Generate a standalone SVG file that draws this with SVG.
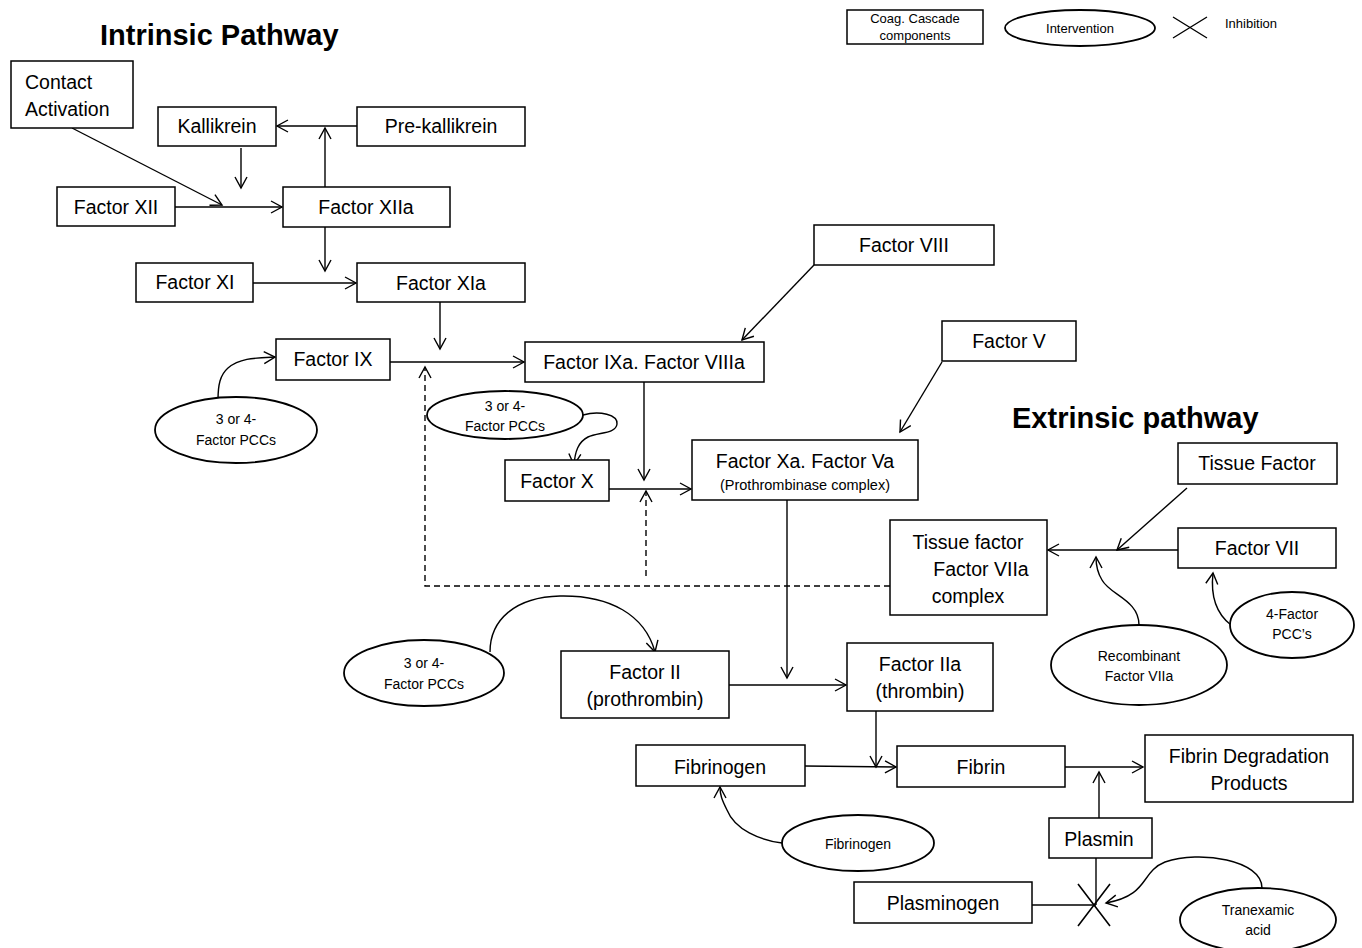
<svg xmlns="http://www.w3.org/2000/svg" width="1362" height="948" viewBox="0 0 1362 948">
<defs>
<marker id="ah" viewBox="0 0 14 14" refX="12" refY="7" markerWidth="14" markerHeight="14" markerUnits="userSpaceOnUse" orient="auto">
<path d="M1,1 L12,7 L1,13" fill="none" stroke="#000" stroke-width="1.4"/>
</marker>
</defs>
<style>
.box{fill:#fff;stroke:#000;stroke-width:1.5}
.ell{fill:#fff;stroke:#000;stroke-width:1.8}
.t{font-family:"Liberation Sans",Arial,sans-serif;font-size:19.5px;fill:#000;text-anchor:middle}
.s{font-family:"Liberation Sans",Arial,sans-serif;font-size:14px;fill:#000;text-anchor:middle}
.h{font-family:"Liberation Sans",Arial,sans-serif;font-size:29px;font-weight:bold;fill:#000}
.c{fill:none;stroke:#000;stroke-width:1.4}
.a{marker-end:url(#ah)}
.d{stroke-dasharray:6,4}
</style>
<rect width="1362" height="948" fill="#fff"/>

<text class="h" x="100" y="45">Intrinsic Pathway</text>
<text class="h" x="1012" y="428">Extrinsic pathway</text>

<g id="legend">
<rect class="box" x="847" y="10" width="136" height="34"/>
<text class="s" x="915" y="23" style="font-size:13px">Coag. Cascade</text>
<text class="s" x="915" y="40" style="font-size:13px">components</text>
<ellipse class="ell" cx="1080" cy="28" rx="75" ry="18"/>
<text class="s" x="1080" y="33" style="font-size:13px">Intervention</text>
<path class="c" d="M1173,17 L1207,38 M1173,38 L1207,17"/>
<text class="s" x="1225" y="28" style="font-size:13px;text-anchor:start">Inhibition</text>
</g>

<g id="connectors">
<line class="c a" x1="72" y1="128" x2="222" y2="205"/>
<line class="c a" x1="175" y1="207" x2="282" y2="207"/>
<line class="c a" x1="241" y1="148" x2="241" y2="188"/>
<line class="c a" x1="325" y1="187" x2="325" y2="128"/>
<line class="c a" x1="357" y1="126" x2="277" y2="126"/>
<line class="c a" x1="325" y1="227" x2="325" y2="271"/>
<line class="c a" x1="253" y1="283" x2="356" y2="283"/>
<line class="c a" x1="440" y1="302" x2="440" y2="349"/>
<line class="c a" x1="390" y1="362" x2="524" y2="362"/>
<path class="c d a" d="M890,586 L425,586 L425,367"/>
<line class="c d a" x1="646" y1="576" x2="646" y2="491"/>
<line class="c a" x1="814" y1="265" x2="742" y2="340"/>
<line class="c a" x1="942" y1="362" x2="900" y2="432"/>
<line class="c a" x1="644" y1="382" x2="644" y2="480"/>
<line class="c a" x1="609" y1="489" x2="691" y2="489"/>
<line class="c a" x1="787" y1="500" x2="787" y2="678"/>
<line class="c a" x1="729" y1="685" x2="846" y2="685"/>
<line class="c a" x1="876" y1="711" x2="876" y2="767"/>
<line class="c a" x1="805" y1="766" x2="896" y2="767"/>
<line class="c a" x1="1065" y1="767" x2="1143" y2="767"/>
<line class="c a" x1="1099" y1="818" x2="1099" y2="772"/>
<line class="c" x1="1096" y1="858" x2="1096" y2="905"/>
<line class="c" x1="1032" y1="905" x2="1096" y2="905"/>
<path class="c" d="M1078,884 L1110,926 M1078,926 L1110,884" style="stroke-width:1.6"/>
<path class="c a" d="M1262,888 C1262,860 1200,850 1165,862 C1140,872 1150,895 1106,903"/>
<line class="c a" x1="1187" y1="488" x2="1117" y2="550"/>
<line class="c a" x1="1178" y1="550" x2="1048" y2="550"/>
<path class="c a" d="M1139,625 C1139,600 1110,595 1102,580 C1097,572 1096,565 1096,557"/>
<path class="c a" d="M1231,625 C1218,615 1210,600 1213,573"/>
<path class="c a" d="M782,843 C760,840 735,830 727,810 C722,800 720,795 720,787"/>
<path class="c a" d="M218,400 C218,385 220,375 228,368 C240,358 255,358 275,357"/>
<path class="c a" d="M583,415 C600,410 618,415 617,424 C616,434 598,432 588,437 C578,442 575,452 574,465"/>
<path class="c a" d="M490,652 C490,620 515,597 560,596 C610,595 645,615 655,652"/>
</g>

<g id="contact-activation"><rect class="box" x="11" y="61" width="122" height="67"/>
<text class="t" x="25" y="89" style="text-anchor:start">Contact</text>
<text class="t" x="25" y="116" style="text-anchor:start">Activation</text></g>
<g id="kallikrein"><rect class="box" x="158" y="107" width="118" height="39"/><text class="t" x="217" y="133">Kallikrein</text></g>
<g id="pre-kallikrein"><rect class="box" x="357" y="107" width="168" height="39"/><text class="t" x="441" y="133">Pre-kallikrein</text></g>
<g id="factor-xii"><rect class="box" x="57" y="187" width="118" height="39"/><text class="t" x="116" y="214">Factor XII</text></g>
<g id="factor-xiia"><rect class="box" x="283" y="187" width="167" height="40"/><text class="t" x="366" y="214">Factor XIIa</text></g>
<g id="factor-xi"><rect class="box" x="136" y="263" width="117" height="39"/><text class="t" x="195" y="289">Factor XI</text></g>
<g id="factor-xia"><rect class="box" x="357" y="263" width="168" height="39"/><text class="t" x="441" y="290">Factor XIa</text></g>
<g id="factor-viii"><rect class="box" x="814" y="225" width="180" height="40"/><text class="t" x="904" y="252">Factor VIII</text></g>
<g id="factor-ix"><rect class="box" x="276" y="339" width="114" height="41"/><text class="t" x="333" y="366">Factor IX</text></g>
<g id="factor-ixa-viiia"><rect class="box" x="525" y="342" width="239" height="40"/><text class="t" x="644" y="369">Factor IXa. Factor VIIIa</text></g>
<g id="factor-v"><rect class="box" x="942" y="321" width="134" height="40"/><text class="t" x="1009" y="348">Factor V</text></g>
<g id="factor-x"><rect class="box" x="505" y="460" width="104" height="41"/><text class="t" x="557" y="488">Factor X</text></g>
<g id="factor-xa-va"><rect class="box" x="692" y="440" width="226" height="60"/>
<text class="t" x="805" y="468">Factor Xa. Factor Va</text>
<text class="s" x="805" y="490" style="font-size:14.5px">(Prothrombinase complex)</text></g>
<g id="tissue-factor"><rect class="box" x="1178" y="443" width="159" height="41"/><text class="t" x="1257" y="470">Tissue Factor</text></g>
<g id="factor-vii"><rect class="box" x="1178" y="528" width="158" height="40"/><text class="t" x="1257" y="555">Factor VII</text></g>
<g id="tf-viia-complex"><rect class="box" x="890" y="520" width="157" height="95"/>
<text class="t" x="968" y="549">Tissue factor</text>
<text class="t" x="981" y="576">Factor VIIa</text>
<text class="t" x="968" y="603">complex</text></g>
<g id="factor-ii"><rect class="box" x="561" y="651" width="168" height="67"/>
<text class="t" x="645" y="679">Factor II</text>
<text class="t" x="645" y="706">(prothrombin)</text></g>
<g id="factor-iia"><rect class="box" x="847" y="643" width="146" height="68"/>
<text class="t" x="920" y="671">Factor IIa</text>
<text class="t" x="920" y="698">(thrombin)</text></g>
<g id="fibrinogen"><rect class="box" x="636" y="745" width="169" height="41"/><text class="t" x="720" y="774">Fibrinogen</text></g>
<g id="fibrin"><rect class="box" x="897" y="746" width="168" height="41"/><text class="t" x="981" y="774">Fibrin</text></g>
<g id="fdp"><rect class="box" x="1145" y="735" width="208" height="67"/>
<text class="t" x="1249" y="763">Fibrin Degradation</text>
<text class="t" x="1249" y="790">Products</text></g>
<g id="plasmin"><rect class="box" x="1049" y="818" width="103" height="40"/><text class="t" x="1099" y="846">Plasmin</text></g>
<g id="plasminogen"><rect class="box" x="854" y="882" width="178" height="41"/><text class="t" x="943" y="910">Plasminogen</text></g>

<g id="pcc-left"><ellipse class="ell" cx="236" cy="430" rx="81" ry="33"/>
<text class="s" x="236" y="424">3 or 4-</text><text class="s" x="236" y="445">Factor PCCs</text></g>
<g id="pcc-middle"><ellipse class="ell" cx="505" cy="415" rx="78" ry="24"/>
<text class="s" x="505" y="411">3 or 4-</text><text class="s" x="505" y="431">Factor PCCs</text></g>
<g id="pcc-bottom"><ellipse class="ell" cx="424" cy="673" rx="80" ry="33"/>
<text class="s" x="424" y="668">3 or 4-</text><text class="s" x="424" y="689">Factor PCCs</text></g>
<g id="recombinant-viia"><ellipse class="ell" cx="1139" cy="665" rx="88" ry="40"/>
<text class="s" x="1139" y="661">Recombinant</text><text class="s" x="1139" y="681">Factor VIIa</text></g>
<g id="pcc-4factor"><ellipse class="ell" cx="1292" cy="625" rx="62" ry="33"/>
<text class="s" x="1292" y="619">4-Factor</text><text class="s" x="1292" y="639">PCC’s</text></g>
<g id="fibrinogen-int"><ellipse class="ell" cx="858" cy="843" rx="76" ry="28"/>
<text class="s" x="858" y="849">Fibrinogen</text></g>
<g id="tranexamic"><ellipse class="ell" cx="1258" cy="920" rx="78" ry="32"/>
<text class="s" x="1258" y="915">Tranexamic</text><text class="s" x="1258" y="935">acid</text></g>
</svg>
